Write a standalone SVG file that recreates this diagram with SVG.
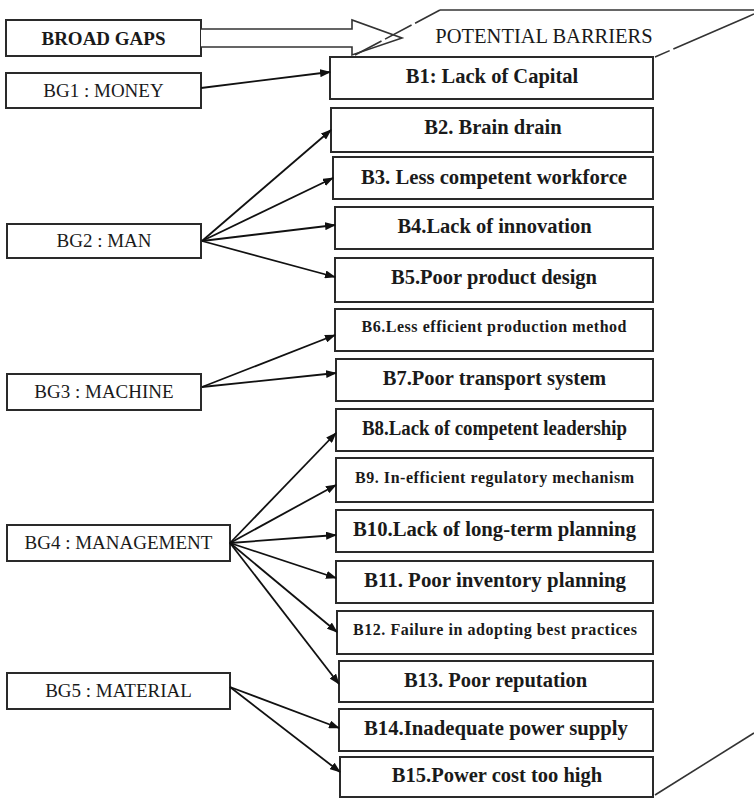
<svg xmlns="http://www.w3.org/2000/svg" width="754" height="798" viewBox="0 0 754 798">
  <style>
    .box { fill: #fff; stroke: #2a2a2a; stroke-width: 2; }
    .gap { font-family: "Liberation Serif", "Times New Roman", serif; font-size: 19px; fill: #1a1a1a; text-anchor: middle; }
    .bar { font-family: "Liberation Serif", "Times New Roman", serif; font-size: 20.5px; font-weight: bold; fill: #1a1a1a; text-anchor: middle; }
    .bar-s { font-family: "Liberation Serif", "Times New Roman", serif; font-size: 16px; font-weight: bold; fill: #1a1a1a; text-anchor: middle; }
    .edge { fill: none; stroke: #333; stroke-width: 1.6; }
    .link { fill: none; stroke: #111; stroke-width: 1.8; marker-end: url(#head); }
  </style>
  <defs>
    <marker id="head" markerUnits="userSpaceOnUse" markerWidth="11" markerHeight="8" refX="10" refY="4" orient="auto">
      <path d="M0,0 L11,4 L0,8 z" fill="#111"/>
    </marker>
  </defs>

  <rect width="754" height="798" fill="#fff"/>

  <!-- header: broad gaps with hollow block arrow -->
  <g id="broad-gaps">
    <rect class="box" x="6" y="20" width="195" height="36"/>
    <text class="gap" x="103.5" y="45" font-weight="bold" font-size="18">BROAD GAPS</text>
    <path d="M201,29 L352,29 L352,20 L402,38 L352,55 L352,47 L201,47" fill="#fff" stroke="#333" stroke-width="1.6"/>
  </g>

  <!-- cuboid outline: top face and right face -->
  <g id="frame">
    <path class="edge" d="M355,55 L440,10" stroke-dasharray="30 4"/>
    <path class="edge" d="M440,10 L754,10"/>
    <path class="edge" d="M655,57 L754,14" stroke-dasharray="16 4 80 0"/>
    <path class="edge" d="M655,795 L754,733"/>
    <text x="544" y="43" font-family="Liberation Serif, Times New Roman, serif" font-size="20.5" fill="#1a1a1a" text-anchor="middle">POTENTIAL BARRIERS</text>
  </g>

  <!-- broad gap nodes -->
  <g id="bg1"><rect class="box" x="6" y="73" width="195" height="35"/><text class="gap" x="103.5" y="97">BG1 : MONEY</text></g>
  <g id="bg2"><rect class="box" x="7" y="224" width="194" height="34"/><text class="gap" x="104" y="247">BG2 : MAN</text></g>
  <g id="bg3"><rect class="box" x="7" y="374" width="194" height="36"/><text class="gap" x="104" y="398">BG3 : MACHINE</text></g>
  <g id="bg4"><rect class="box" x="7" y="525" width="223" height="36"/><text class="gap" x="118.5" y="549">BG4 : MANAGEMENT</text></g>
  <g id="bg5"><rect class="box" x="7" y="673" width="223" height="36"/><text class="gap" x="118.5" y="697">BG5 : MATERIAL</text></g>

  <!-- barrier nodes -->
  <g id="b1"><rect class="box" x="330" y="57" width="323" height="42"/><text class="bar" x="492" y="83">B1: Lack of Capital</text></g>
  <g id="b2"><rect class="box" x="331" y="108" width="322" height="44"/><text class="bar" x="493" y="134">B2. Brain drain</text></g>
  <g id="b3"><rect class="box" x="333" y="157" width="320" height="42"/><text class="bar" x="494" y="184" textLength="266" lengthAdjust="spacingAndGlyphs">B3. Less competent workforce</text></g>
  <g id="b4"><rect class="box" x="335" y="207" width="318" height="42"/><text class="bar" x="494.5" y="233">B4.Lack of innovation</text></g>
  <g id="b5"><rect class="box" x="335" y="258" width="318" height="44"/><text class="bar" x="494" y="284">B5.Poor product design</text></g>
  <g id="b6"><rect class="box" x="335" y="309" width="318" height="42"/><text class="bar-s" x="494" y="332" textLength="265" lengthAdjust="spacing">B6.Less efficient production method</text></g>
  <g id="b7"><rect class="box" x="336" y="359" width="317" height="42"/><text class="bar" x="494.5" y="385">B7.Poor transport system</text></g>
  <g id="b8"><rect class="box" x="336" y="409" width="317" height="42"/><text class="bar" x="494.5" y="435" textLength="265" lengthAdjust="spacingAndGlyphs">B8.Lack of competent leadership</text></g>
  <g id="b9"><rect class="box" x="336" y="458" width="317" height="44"/><text class="bar-s" x="494.5" y="483" textLength="279" lengthAdjust="spacing">B9. In-efficient regulatory mechanism</text></g>
  <g id="b10"><rect class="box" x="336" y="510" width="317" height="42"/><text class="bar" x="494.5" y="536" textLength="283" lengthAdjust="spacingAndGlyphs">B10.Lack of long-term planning</text></g>
  <g id="b11"><rect class="box" x="336" y="561" width="317" height="42"/><text class="bar" x="495" y="587" textLength="262" lengthAdjust="spacingAndGlyphs">B11. Poor inventory planning</text></g>
  <g id="b12"><rect class="box" x="337" y="611" width="316" height="43"/><text class="bar-s" x="495" y="635" textLength="284" lengthAdjust="spacing">B12. Failure in adopting best practices</text></g>
  <g id="b13"><rect class="box" x="339" y="661" width="314" height="41"/><text class="bar" x="495.5" y="687">B13. Poor reputation</text></g>
  <g id="b14"><rect class="box" x="339" y="709" width="314" height="42"/><text class="bar" x="496" y="735" textLength="264" lengthAdjust="spacingAndGlyphs">B14.Inadequate power supply</text></g>
  <g id="b15"><rect class="box" x="340" y="757" width="313" height="40"/><text class="bar" x="497" y="782">B15.Power cost too high</text></g>

  <!-- connectors from each broad gap to its barriers -->
  <g id="connectors">
    <line class="link" x1="201" y1="88" x2="330" y2="72"/>
    <line class="link" x1="202" y1="241" x2="331" y2="130"/>
    <line class="link" x1="202" y1="241" x2="333" y2="178"/>
    <line class="link" x1="202" y1="241" x2="335" y2="225"/>
    <line class="link" x1="202" y1="241" x2="335" y2="277"/>
    <line class="link" x1="202" y1="387" x2="335" y2="335"/>
    <line class="link" x1="202" y1="387" x2="336" y2="373"/>
    <line class="link" x1="230" y1="543" x2="336" y2="433"/>
    <line class="link" x1="230" y1="543" x2="336" y2="485"/>
    <line class="link" x1="230" y1="543" x2="336" y2="535"/>
    <line class="link" x1="230" y1="543" x2="336" y2="578"/>
    <line class="link" x1="230" y1="543" x2="337" y2="632"/>
    <line class="link" x1="230" y1="543" x2="339" y2="684"/>
    <line class="link" x1="230" y1="687" x2="339" y2="728"/>
    <line class="link" x1="230" y1="687" x2="340" y2="772"/>
  </g>
</svg>
